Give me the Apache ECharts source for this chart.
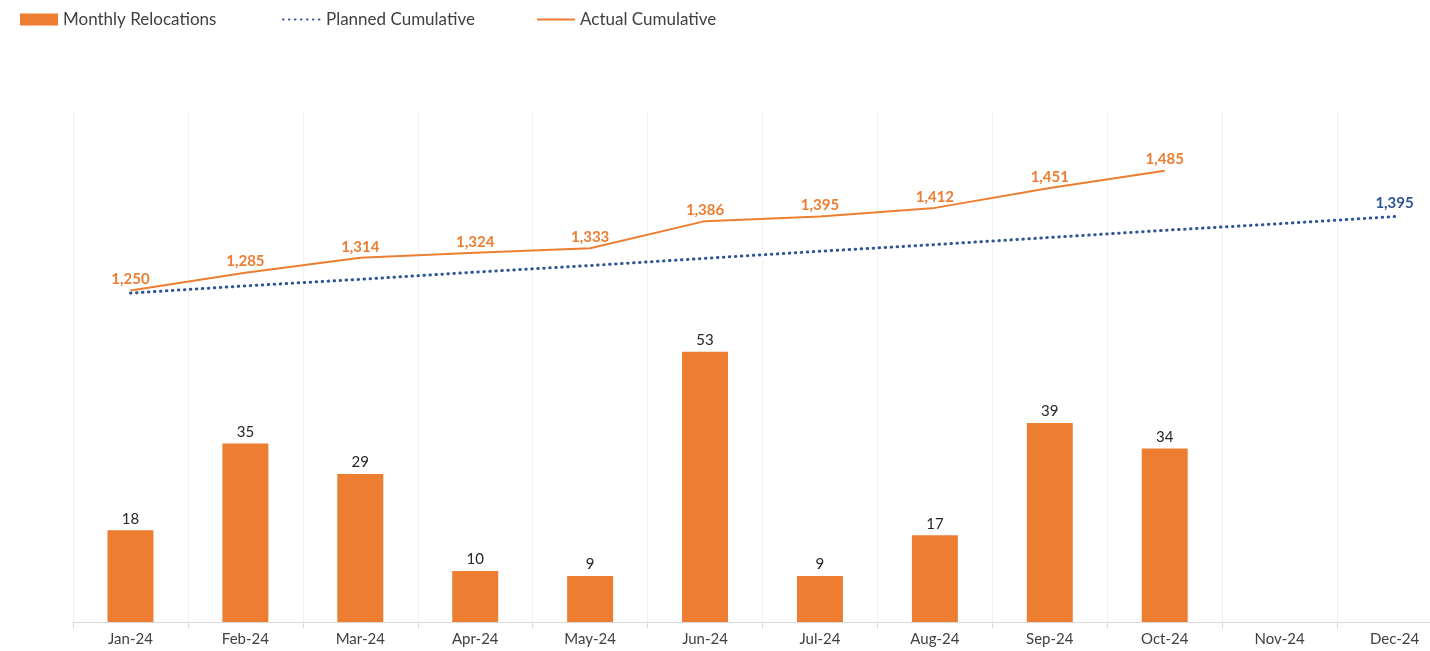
<!DOCTYPE html>
<html><head><meta charset="utf-8">
<script src="https://cdn.jsdelivr.net/npm/echarts@6/dist/echarts.min.js"></script>
<style>html,body{margin:0;padding:0;background:#fff;overflow:hidden;width:1430px;height:651px}#c{width:1453px;height:651px}</style>
</head><body><div id="c"></div>
<script>
const categories = ['Jan-24','Feb-24','Mar-24','Apr-24','May-24','Jun-24','Jul-24','Aug-24','Sep-24','Oct-24','Nov-24','Dec-24'];
const monthly = [18,35,29,10,9,53,9,17,39,34,null,null];
const planned = [1245,1259,1272,1286,1299,1313,1327,1340,1354,1368,1381,1395];
const actual = [1250,1285,1314,1324,1333,1386,1395,1412,1451,1485,null,null];

const FONT = 'Lato';
const orange = '#ED7D31', blue = '#2F5597';
const chart = echarts.init(document.getElementById('c'));
const legendBase = {top: 6, itemWidth: 38, itemHeight: 12, itemGap: 9,
  textStyle: {fontFamily: FONT, fontSize: 17, color: '#404040'}};
chart.setOption({
  animation: false,
  textStyle: {fontFamily: FONT},
  legend: [
    Object.assign({}, legendBase, {left: 15, data: [{name: 'Monthly Relocations', icon: 'rect'}]}),
    Object.assign({}, legendBase, {left: 277, data: [{name: 'Planned Cumulative', itemStyle: {opacity: 0}}]}),
    Object.assign({}, legendBase, {left: 531, data: ['Actual Cumulative']})
  ],
  grid: {left: 73, right: 1, top: 112, bottom: 29, containLabel: false},
  xAxis: {
    type: 'category', data: categories, boundaryGap: true,
    axisLine: {show: true, lineStyle: {color: '#d9d9d9', width: 1}},
    axisTick: {show: true, length: 6, lineStyle: {color: '#d9d9d9'}},
    axisLabel: {fontFamily: FONT, fontSize: 15, color: '#404040', margin: 10},
    splitLine: {show: true, lineStyle: {color: '#f2f2f2', width: 1}}
  },
  yAxis: [
    {type: 'value', min: 0, max: 100, show: false, splitLine: {show: false}},
    {type: 'value', min: 600, max: 1600, show: false, splitLine: {show: false}}
  ],
  series: [
    {name: 'Monthly Relocations', type: 'bar', data: monthly, yAxisIndex: 0,
     barWidth: '40%', itemStyle: {color: orange},
     label: {show: true, position: 'top', distance: 4, fontFamily: FONT, fontSize: 15, color: '#262626'}},
    {name: 'Planned Cumulative', type: 'line', data: planned, yAxisIndex: 1,
     symbol: 'circle', symbolSize: 1, showSymbol: true, z: 3,
     lineStyle: {color: blue, width: 3, type: [0.5, 5.5], cap: 'round'},
     itemStyle: {color: blue, opacity: 0},
     label: {show: true, position: 'top', distance: 5, opacity: 1,
       formatter: p => p.dataIndex === planned.length - 1 ? p.value.toLocaleString('en-US') : '',
       color: blue, fontFamily: FONT, fontSize: 15, fontWeight: 'bold'}},
    {name: 'Actual Cumulative', type: 'line', data: actual, yAxisIndex: 1,
     symbol: 'circle', symbolSize: 1, showSymbol: true, z: 4,
     lineStyle: {color: orange, width: 2},
     itemStyle: {color: orange, opacity: 0},
     label: {show: true, position: 'top', distance: 3, opacity: 1, formatter: p => p.value.toLocaleString('en-US'),
       color: orange, fontFamily: FONT, fontSize: 15, fontWeight: 'bold'}}
  ]
});
</script></body></html>
